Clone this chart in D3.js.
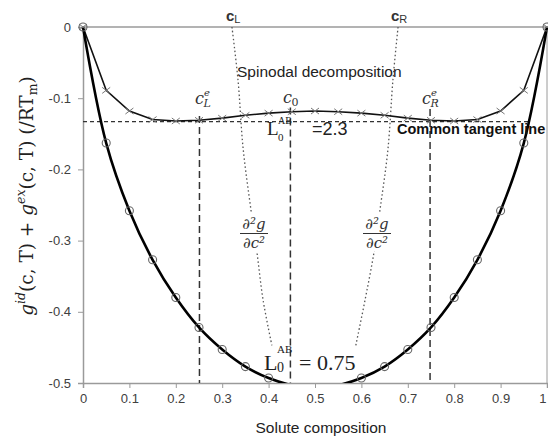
<!DOCTYPE html>
<html>
<head>
<meta charset="utf-8">
<script src="https://cdn.jsdelivr.net/npm/d3@7"></script>
<style>
  html, body { margin: 0; padding: 0; background: #fff; }
  svg { display: block; }
</style>
</head>
<body>
<svg id="chart" width="548" height="437"></svg>
<script>
// ---------- data ----------
const composition = [0, 0.05, 0.1, 0.15, 0.2, 0.25, 0.3, 0.35, 0.4, 0.45, 0.5, 0.55, 0.6, 0.65, 0.7, 0.75, 0.8, 0.85, 0.9, 0.95, 1];
const gL075 = [0, -0.163, -0.258, -0.327, -0.380, -0.422, -0.453, -0.477, -0.493, -0.503, -0.506, -0.503, -0.493, -0.477, -0.453, -0.422, -0.380, -0.327, -0.258, -0.163, 0];
const gL230 = [0, -0.089, -0.118, -0.130, -0.132, -0.131, -0.128, -0.124, -0.121, -0.119, -0.118, -0.119, -0.121, -0.124, -0.128, -0.131, -0.132, -0.130, -0.118, -0.089, 0];

// second-derivative guide curves (dotted)
const d2LeftC  = [0.321, 0.334, 0.345, 0.362, 0.375, 0.388, 0.407];
const d2LeftV  = [0, -0.074, -0.170, -0.257, -0.317, -0.383, -0.447];
const d2RightC = [0.679, 0.668, 0.657, 0.640, 0.627, 0.608, 0.588];
const d2RightV = [0, -0.074, -0.173, -0.257, -0.317, -0.383, -0.447];

// common tangent line and equilibrium compositions
const tangentV = -0.133;
const tangentC = [0, 0.963];
const markersC = [0.251, 0.447, 0.748];      // c_L^e, c_0, c_R^e
const markersTop = [-0.125, -0.113, -0.115];

const xTicks = [0, 0.1, 0.2, 0.3, 0.4, 0.5, 0.6, 0.7, 0.8, 0.9, 1];
const yTicks = [0, -0.1, -0.2, -0.3, -0.4, -0.5];

// ---------- layout ----------
const svg = d3.select("#chart");
const x = d3.scaleLinear().domain([0, 1]).range([83, 547]);
const y = d3.scaleLinear().domain([-0.5, 0]).range([383, 27]);
const axisColor = "#9a9a9a";
const textColor = "#404040";
const sans = "Liberation Sans, Arial, sans-serif";
const serif = "Liberation Serif, DejaVu Serif, serif";

svg.append("defs").append("clipPath").attr("id", "plotClip")
  .append("rect").attr("x", 78).attr("y", 20).attr("width", 475).attr("height", 363);

// frame lines (top and right)
svg.append("line").attr("x1", x(0)).attr("x2", x(1)).attr("y1", y(0)).attr("y2", y(0))
  .attr("stroke", axisColor).attr("stroke-width", 1.5);
svg.append("line").attr("x1", x(1)).attr("x2", x(1)).attr("y1", y(0)).attr("y2", y(-0.5))
  .attr("stroke", axisColor).attr("stroke-width", 1);

// axes
const fmt = d => d === 0 ? "0" : (d === 1 ? "1" : d.toFixed(1));
const xAxis = svg.append("g").attr("transform", `translate(0,${y(-0.5)})`)
  .call(d3.axisBottom(x).tickValues(xTicks).tickFormat(fmt).tickSize(5).tickPadding(6));
const yAxis = svg.append("g").attr("transform", `translate(${x(0)},0)`)
  .call(d3.axisLeft(y).tickValues(yTicks).tickFormat(fmt).tickSize(5).tickPadding(7));
[xAxis, yAxis].forEach(a => {
  a.select(".domain").attr("stroke", axisColor).attr("stroke-width", 1.5);
  a.selectAll(".tick line").attr("stroke", axisColor);
  a.selectAll(".tick text").attr("fill", textColor)
    .style("font-family", sans).style("font-size", "13px");
});
// keep the last tick label inside the window
xAxis.selectAll(".tick text").filter(d => d === 1).attr("text-anchor", "end").attr("dx", -1);

// axis titles
svg.append("text").attr("x", 321).attr("y", 433).attr("text-anchor", "middle")
  .style("font-family", sans).style("font-size", "15.5px")
  .attr("fill", "#222").text("Solute composition");

const yl = svg.append("text")
  .attr("transform", "translate(33,196) rotate(-90)")
  .attr("text-anchor", "middle")
  .style("font-family", "DejaVu Serif, serif").style("font-size", "18.5px")
  .attr("fill", "#222");
yl.append("tspan").style("font-style", "italic").text("g");
yl.append("tspan").style("font-style", "italic").style("font-size", "12.5px").attr("dy", -8).text("id");
yl.append("tspan").attr("dy", 8).text("(c, T) + ");
yl.append("tspan").style("font-style", "italic").text("g");
yl.append("tspan").style("font-style", "italic").style("font-size", "12.5px").attr("dy", -8).text("ex");
yl.append("tspan").attr("dy", 8).text("(c, T)  (/RT");
yl.append("tspan").style("font-size", "12.5px").attr("dy", 4).text("m");
yl.append("tspan").attr("dy", -4).text(")");

// ---------- guide lines ----------
const plot = svg.append("g").attr("clip-path", "url(#plotClip)");

// common tangent line
plot.append("line")
  .attr("x1", x(tangentC[0])).attr("x2", x(tangentC[1]))
  .attr("y1", y(tangentV)).attr("y2", y(tangentV))
  .attr("stroke", "#333").attr("stroke-width", 1.2).attr("stroke-dasharray", "4,3");

// vertical dashed lines
markersC.forEach((c, i) => {
  plot.append("line")
    .attr("x1", x(c)).attr("x2", x(c))
    .attr("y1", y(markersTop[i])).attr("y2", y(-0.5))
    .attr("stroke", "#333").attr("stroke-width", 1.5).attr("stroke-dasharray", "7,4");
});

// dotted second-derivative curves
const guideLine = d3.line().x(d => x(d[0])).y(d => y(d[1])).curve(d3.curveCatmullRom);
[[d2LeftC, d2LeftV], [d2RightC, d2RightV]].forEach(([cs, vs]) => {
  plot.append("path").datum(cs.map((c, i) => [c, vs[i]]))
    .attr("d", guideLine).attr("fill", "none")
    .attr("stroke", "#555").attr("stroke-width", 1.3).attr("stroke-dasharray", "1.5,2.5");
});

// ---------- series ----------
const pts075 = composition.map((c, i) => [c, gL075[i]]);
const pts230 = composition.map((c, i) => [c, gL230[i]]);

plot.append("path").datum(pts230)
  .attr("d", d3.line().x(d => x(d[0])).y(d => y(d[1])))
  .attr("fill", "none").attr("stroke", "#111").attr("stroke-width", 1.6);

plot.append("path").datum(pts075)
  .attr("d", d3.line().x(d => x(d[0])).y(d => y(d[1])).curve(d3.curveCatmullRom))
  .attr("fill", "none").attr("stroke", "#000").attr("stroke-width", 2.6);

// x markers for L=2.3
plot.selectAll(".xm").data(pts230).enter().append("path")
  .attr("d", d => `M${x(d[0]) - 4},${y(d[1]) - 3}L${x(d[0]) + 4},${y(d[1]) + 3}M${x(d[0]) - 4},${y(d[1]) + 3}L${x(d[0]) + 4},${y(d[1]) - 3}`)
  .attr("stroke", "#777").attr("stroke-width", 1).attr("fill", "none");

// circle markers for L=0.75 (only those within the axis range)
plot.selectAll(".cm").data(pts075.filter(d => d[1] >= -0.5)).enter().append("circle")
  .attr("cx", d => x(d[0])).attr("cy", d => y(d[1])).attr("r", 4)
  .attr("fill", "none").attr("stroke", "#666").attr("stroke-width", 1.1);

// ---------- annotations ----------
function topLabel(xp, sub) {
  const t = svg.append("text").attr("x", xp).attr("y", 21)
    .style("font-family", sans).attr("fill", "#333");
  t.append("tspan").style("font-size", "15px").style("font-weight", "bold").text("c");
  t.append("tspan").style("font-size", "11px").attr("dy", 2).text(sub);
}
topLabel(226, "L");
topLabel(391, "R");

svg.append("text").attr("x", 237).attr("y", 77)
  .style("font-family", sans).style("font-size", "15.5px").attr("fill", "#222")
  .text("Spinodal decomposition");

svg.append("text").attr("x", 397).attr("y", 134)
  .style("font-family", sans).style("font-size", "14.5px").style("font-weight", "bold").attr("fill", "#111")
  .text("Common tangent line");

// c^e_L, c_0, c^e_R
function cLabel(xp, base, sup, sub) {
  svg.append("text").attr("x", xp).attr("y", base)
    .style("font-family", "DejaVu Serif, serif").style("font-style", "italic").style("font-size", "16px").attr("fill", "#333").text("c");
  if (sup) svg.append("text").attr("x", xp + 9).attr("y", base - 8)
    .style("font-family", "DejaVu Serif, serif").style("font-style", "italic").style("font-size", "10px").attr("fill", "#333").text(sup);
  svg.append("text").attr("x", xp + 8.5).attr("y", base + 3)
    .style("font-family", "DejaVu Serif, serif").style("font-style", sup ? "italic" : "normal").style("font-size", "11px").attr("fill", "#333").text(sub);
}
cLabel(195, 104, "e", "L");
cLabel(283, 103, null, "0");
cLabel(422, 104, "e", "R");

// L0AB labels
function lLabel(p) {
  svg.append("text").attr("x", p.x).attr("y", p.base)
    .style("font-family", serif).style("font-size", p.size + "px").attr("fill", "#222").text("L");
  svg.append("text").attr("x", p.x + p.subDx).attr("y", p.supY)
    .style("font-family", serif).style("font-size", p.supSize + "px").attr("fill", "#222").text("AB");
  svg.append("text").attr("x", p.x + p.subDx).attr("y", p.subY)
    .style("font-family", serif).style("font-size", p.subSize + "px").attr("fill", "#222").text("0");
  svg.append("text").attr("x", p.valX).attr("y", p.base)
    .style("font-family", p.valFont).style("font-size", p.valSize + "px").attr("fill", "#222").text(p.value);
}
lLabel({ x: 267, base: 135, size: 19, subDx: 11, supY: 124, supSize: 10, subY: 141, subSize: 11,
         valX: 312, valFont: sans, valSize: 18, value: "=2.3" });
lLabel({ x: 264, base: 370, size: 22, subDx: 13, supY: 353, supSize: 11, subY: 372, subSize: 14,
         valX: 299, valFont: serif, valSize: 22, value: "= 0.75" });

// d2g/dc2 labels with white backing
function fracLabel(cx) {
  svg.append("rect").attr("x", cx - 15).attr("y", 213).attr("width", 30).attr("height", 38).attr("fill", "#fff");
  svg.append("text").attr("x", cx).attr("y", 229).attr("text-anchor", "middle")
    .style("font-family", "DejaVu Serif, serif").style("font-style", "italic").style("font-size", "15px").attr("fill", "#333")
    .text("\u2202\u00B2g");
  svg.append("line").attr("x1", cx - 14).attr("x2", cx + 14).attr("y1", 233.5).attr("y2", 233.5)
    .attr("stroke", "#333").attr("stroke-width", 1);
  svg.append("text").attr("x", cx).attr("y", 248).attr("text-anchor", "middle")
    .style("font-family", "DejaVu Serif, serif").style("font-style", "italic").style("font-size", "15px").attr("fill", "#333")
    .text("\u2202c\u00B2");
}
fracLabel(254);
fracLabel(377);
</script>
</body>
</html>
